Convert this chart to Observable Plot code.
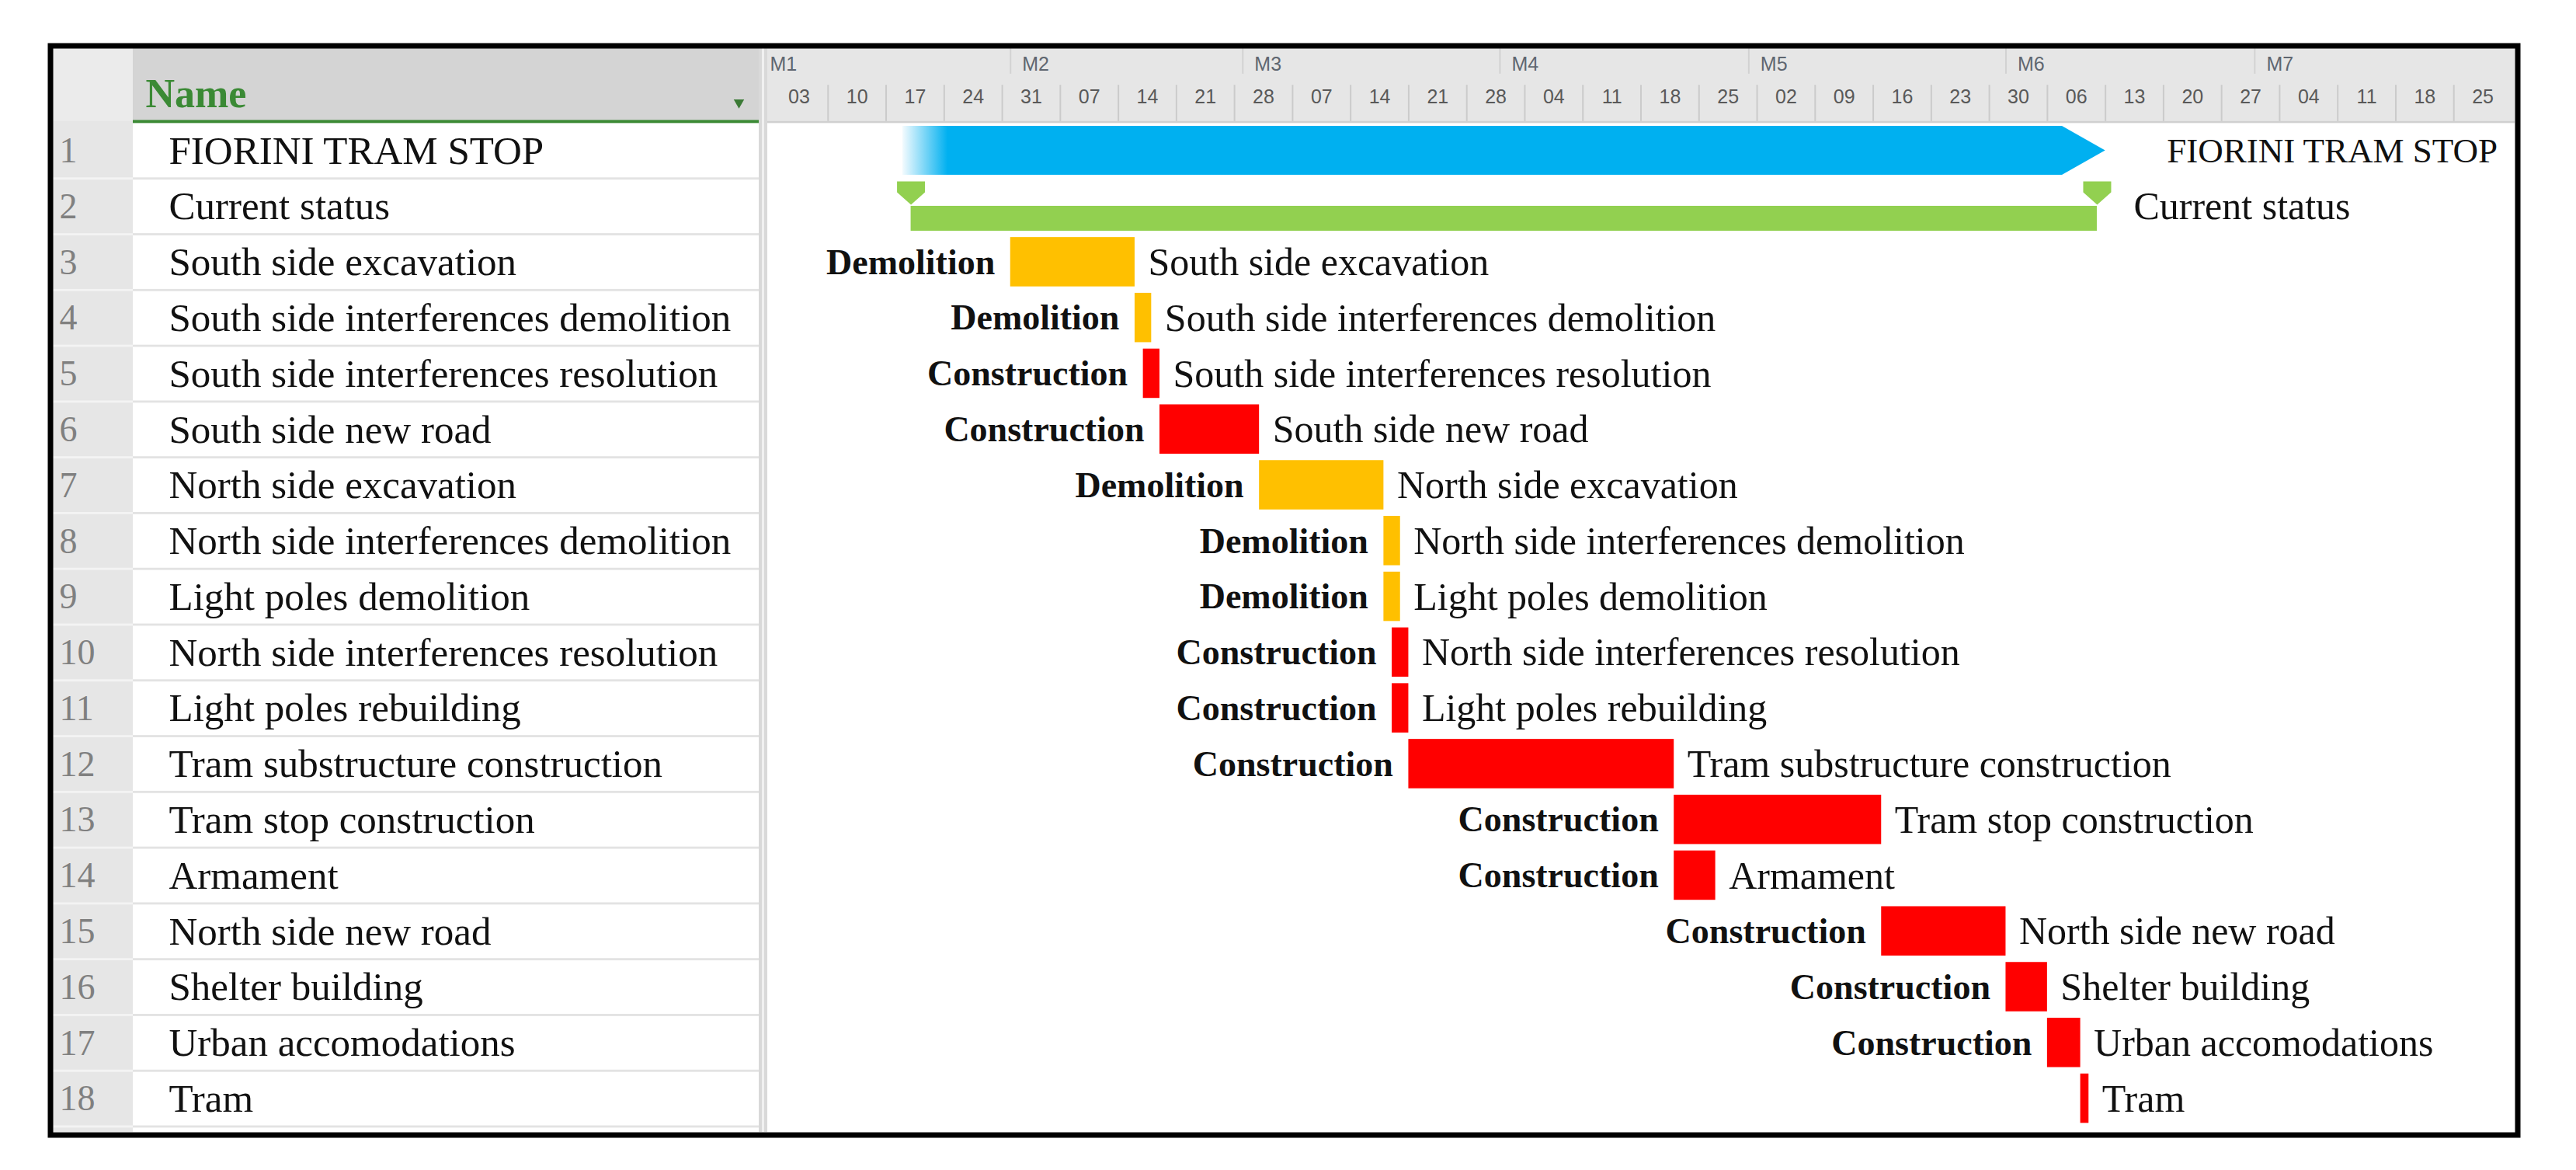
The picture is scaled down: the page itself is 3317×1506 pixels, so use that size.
<!DOCTYPE html>
<html>
<head>
<meta charset="utf-8">
<script src="https://cdn.jsdelivr.net/npm/d3@7"></script>
<script src="https://cdn.jsdelivr.net/npm/@observablehq/plot@0.6"></script>
<style>
  html, body { margin: 0; padding: 0; background: #fff; }
  svg { display: block; }
</style>
</head>
<body>
<div id="chart"></div>
<script>
// ---------------- data ----------------
const taskNames = [
  "FIORINI TRAM STOP",
  "Current status",
  "South side excavation",
  "South side interferences demolition",
  "South side interferences resolution",
  "South side new road",
  "North side excavation",
  "North side interferences demolition",
  "Light poles demolition",
  "North side interferences resolution",
  "Light poles rebuilding",
  "Tram substructure construction",
  "Tram stop construction",
  "Armament",
  "North side new road",
  "Shelter building",
  "Urban accomodations",
  "Tram"
];
const phases = [
  "", "", "Demolition", "Demolition", "Construction", "Construction",
  "Demolition", "Demolition", "Demolition", "Construction", "Construction",
  "Construction", "Construction", "Construction", "Construction",
  "Construction", "Construction", ""
];
const starts = [
  "2022-01-19", "2022-01-20", "2022-02-01", "2022-02-16", "2022-02-17", "2022-02-19",
  "2022-03-03", "2022-03-18", "2022-03-18", "2022-03-19", "2022-03-19",
  "2022-03-21", "2022-04-22", "2022-04-22", "2022-05-17", "2022-06-01",
  "2022-06-06", "2022-06-10"
];
const finishes = [
  "2022-06-13", "2022-06-12", "2022-02-16", "2022-02-18", "2022-02-19", "2022-03-03",
  "2022-03-18", "2022-03-20", "2022-03-20", "2022-03-21", "2022-03-21",
  "2022-04-22", "2022-05-17", "2022-04-27", "2022-06-01", "2022-06-06",
  "2022-06-10", "2022-06-11"
];
const weekLabels = ["03","10","17","24","31","07","14","21","28","07","14","21","28",
  "04","11","18","25","02","09","16","23","30","06","13","20","27","04","11","18","25"];
const monthLabels = ["M1","M2","M3","M4","M5","M6","M7"];
const monthStarts = ["2022-01-01","2022-02-01","2022-03-01","2022-04-01","2022-05-01","2022-06-01","2022-07-01"];
const timelineStart = "2022-01-03";
const timelineEnd = "2022-08-01";

// ---------------- derived ----------------
const rows = taskNames.map((name, i) => ({
  i, name, phase: phases[i], start: new Date(starts[i]), finish: new Date(finishes[i])
}));
const summary = rows[0];
const status = rows[1];
const tasks = rows.slice(2);
const t0 = new Date(timelineStart), t1 = new Date(timelineEnd);
const weekDates = weekLabels.map((label, k) => ({label, date: d3.utcDay.offset(t0, 7 * k)}));
const months = monthLabels.map((label, k) => ({label, date: new Date(monthStarts[k])}));

const colorOf = p => p === "Demolition" ? "#ffc000" : "#ff0000";
const serif = "'Liberation Serif', 'Times New Roman', serif";
const sans = "'Liberation Sans', Arial, sans-serif";

// layout (pixels)
const W = 3317, H = 1506;
const FL = 68, FR = 3238, FT = 62, FB = 1457;
const rowTop = 158, rowBottom = 1450;
const rowH = (rowBottom - rowTop) / 18;
const hdrTop = (FT - rowTop) / rowH;
const span = (a, b) => ({insetLeft: a - FL, insetRight: FR - b});

const tipDays = 5.2;
const tipBase = d3.utcHour.offset(summary.finish, -tipDays * 24);
const tipPts = [
  {y: 0.056, x1: tipBase, x2: tipBase},
  {y: 0.4945, x1: tipBase, x2: summary.finish},
  {y: 0.933, x1: tipBase, x2: tipBase}
];

const shield = {
  draw(ctx) {
    ctx.moveTo(-18, -15);
    ctx.lineTo(18, -15);
    ctx.lineTo(18, -1);
    ctx.lineTo(0, 15);
    ctx.lineTo(-18, -1);
    ctx.closePath();
  }
};

const chart = Plot.plot({
  width: W, height: H,
  marginLeft: FL, marginRight: W - FR, marginTop: FT, marginBottom: H - FB,
  x: {type: "utc", domain: [t0, t1], range: [991, 3234], axis: null},
  y: {type: "linear", domain: [0, 18], range: [rowTop, rowBottom], axis: null},
  color: {type: "identity"},
  style: {background: "white", overflow: "visible"},
  marks: [
    // ----- table -----
    Plot.rect([0], {y1: hdrTop, y2: 18.1, fill: "#e6e6e6", ...span(68, 171)}),
    Plot.rect([0], {y1: hdrTop, y2: -0.03, fill: "#ebebeb", ...span(68, 171)}),
    Plot.rect(d3.range(1, 19), {y1: d => d - 0.02, y2: d => d + 0.02, fill: "#f3f3f3", ...span(68, 171)}),
    Plot.rect([0], {y1: hdrTop, y2: 0, fill: "#d4d4d4", ...span(171, 977)}),
    Plot.rect([0], {y1: -0.05, y2: 0.005, fill: "#3b8a35", ...span(171, 977)}),
    Plot.rect(d3.range(1, 19), {y1: d => d - 0.02, y2: d => d + 0.02, fill: "#e3e3e3", ...span(171, 977)}),
    Plot.rect([0], {y1: hdrTop, y2: 18.1, fill: "#d9d9d9", ...span(977, 988)}),
    Plot.rect([0], {y1: hdrTop, y2: 18.1, fill: "#f0f0f0", ...span(981, 984)}),
    Plot.text(["Name"], {y: -0.52, text: d => d, frameAnchor: "left", dx: 119, textAnchor: "start",
      fontFamily: serif, fontWeight: "bold", fontSize: 52, fill: "#3b8a35"}),
    Plot.dot([0], {y: -0.37, frameAnchor: "left", dx: 883, symbol: "triangle", rotate: 180, r: 5,
      fill: "#3b7a35", stroke: "none"}),
    Plot.text(rows, {y: d => d.i + 0.5, text: d => String(d.i + 1), frameAnchor: "left", dx: 8,
      textAnchor: "start", fontFamily: serif, fontSize: 46, fill: "#808080"}),
    Plot.text(rows, {y: d => d.i + 0.5, text: "name", frameAnchor: "left", dx: 149,
      textAnchor: "start", fontFamily: serif, fontSize: 51, fill: "#111"}),

    // ----- timescale header -----
    Plot.rect([0], {y1: hdrTop, y2: 0, fill: "#e6e6e6", ...span(988, 3238)}),
    Plot.rect([0], {y1: -0.03, y2: 0.005, fill: "#d0d0d0", ...span(988, 3238)}),
    Plot.ruleX(months.slice(1), {x: "date", y1: hdrTop, y2: -0.88, stroke: "#d2d2d2", strokeWidth: 2}),
    Plot.ruleX(weekDates.slice(1), {x: "date", y1: -0.68, y2: -0.03, stroke: "#cbcbcb", strokeWidth: 2}),
    Plot.text(months.slice(0, 1), {x: () => t0, y: -1.05, text: "label", dx: 0, textAnchor: "start",
      fontFamily: sans, fontSize: 25, fill: "#5f6670"}),
    Plot.text(months.slice(1), {x: "date", y: -1.05, text: "label", dx: 15, textAnchor: "start",
      fontFamily: sans, fontSize: 25, fill: "#5f6670"}),
    Plot.text(weekDates, {x: d => d3.utcHour.offset(d.date, 84), y: -0.46, text: "label",
      fontFamily: sans, fontSize: 25, fill: "#595959"}),

    // ----- summary bar -----
    Plot.rect([summary], {x1: "start", x2: () => tipBase, y1: 0.056, y2: 0.933, fill: "url(#sumGrad)",
      ariaLabel: "summary-body"}),
    Plot.areaX(tipPts, {y: "y", x1: "x1", x2: "x2", fill: "#00b0f0"}),
    Plot.text([summary], {x: "finish", y: 0.5, text: "name", dx: 79, textAnchor: "start",
      fontFamily: serif, fontSize: 45, fill: "#111"}),

    // ----- current status -----
    Plot.rect([status], {x1: "start", x2: "finish", y1: 1.49, y2: 1.937, fill: "#92d050"}),
    Plot.dot([status.start, status.finish], {x: d => d, y: 1.254, symbol: shield, r: 5,
      fill: "#92d050", stroke: "none"}),
    Plot.text([status], {x: "finish", y: 1.5, text: "name", dx: 47, textAnchor: "start",
      fontFamily: serif, fontSize: 50, fill: "#111"}),

    // ----- task bars -----
    Plot.rect(tasks, {x1: "start", x2: "finish", y1: d => d.i + 0.05, y2: d => d.i + 0.935,
      fill: d => colorOf(d.phase)}),
    Plot.text(tasks.filter(d => d.phase), {x: "start", y: d => d.i + 0.5, text: "phase", dx: -20,
      textAnchor: "end", fontFamily: serif, fontWeight: "bold", fontSize: 46, fill: "#111"}),
    Plot.text(tasks, {x: "finish", y: d => d.i + 0.5, text: "name", dx: 17, textAnchor: "start",
      fontFamily: serif, fontSize: 50, fill: "#111"}),

    // ----- outer border -----
    Plot.frame({stroke: "black", strokeWidth: 7, inset: -3.5})
  ]
});

// gradient for the summary bar's fading start
const svg = d3.select(chart);
const grad = svg.insert("defs", ":first-child").append("linearGradient")
  .attr("id", "sumGrad").attr("x1", "0").attr("x2", "1").attr("y1", "0").attr("y2", "0");
grad.append("stop").attr("offset", "0").attr("stop-color", "#f4fbfe");
grad.append("stop").attr("offset", "0.039").attr("stop-color", "#00b0f0");
grad.append("stop").attr("offset", "1").attr("stop-color", "#00b0f0");
svg.selectAll('[aria-label="summary-body"] rect').attr("fill", "url(#sumGrad)");

document.getElementById("chart").appendChild(chart);
</script>
</body>
</html>
